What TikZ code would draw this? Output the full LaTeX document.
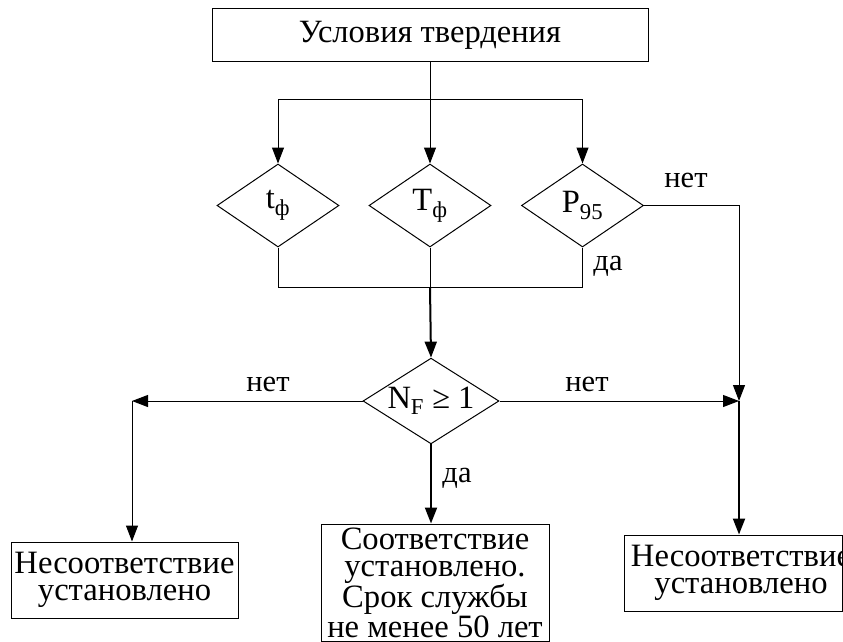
\documentclass[tikz,border=0pt]{standalone}
\usepackage{fontspec}
\setmainfont{Liberation Serif}
\usetikzlibrary{arrows.meta, shapes.geometric}
\newcommand{\fTitle}{\fontsize{32.5}{30}\selectfont}
\newcommand{\fBody}{\fontsize{32.6}{27}\selectfont}
\newcommand{\fCond}{\fontsize{32.5}{32}\selectfont}
\newcommand{\fNote}{\fontsize{30.5}{31}\selectfont}
\tikzset{
  every picture/.style={x=1pt, y=-1pt, line width=1pt},
  box/.style={draw, inner sep=0pt, align=center, font=\fBody},
  cond/.style={draw, diamond, aspect=1.5, inner sep=0pt, minimum width=122pt, minimum height=83pt, font=\fCond},
  arrow/.style={-{Triangle[length=16pt, width=12pt]}},
  heavy/.style={line width=2pt},
  note/.style={font=\fNote, inner sep=0pt},
}
\begin{document}
\begin{tikzpicture}
  \useasboundingbox (0,0) rectangle (843,642);
  % conditions
  \node[box, font=\fTitle, minimum width=436pt, minimum height=53pt] (start) at (430,35.5) {Условия твердения};
  \node[cond] (tf) at (278,205.5) {t\textsubscript{ф}};
  \node[cond] (Tf) at (430,205.5) {T\textsubscript{ф}};
  \node[cond] (P95) at (582.5,205.5) {P\textsubscript{95}};
  \node[cond, minimum width=136pt, minimum height=85pt] (NF) at (431,401) {N\textsubscript{F} ≥ 1};
  % results
  \node[box, minimum width=227pt, minimum height=76pt] (resL) at (124.5,580) {Несоответствие\\установлено};
  \node[box, minimum width=228pt, minimum height=117pt] (resM) at (435,582.5) {Соответствие\\установлено.\\Срок службы\\не менее 50 лет};
  \node[box, minimum width=218pt, minimum height=76pt] (resR) at (733.5,573) {};
  \node[font=\fBody, align=center, inner sep=0pt] (resRtxt) at (741,573) {Несоответствие\\установлено};
  % connectors
  \coordinate (split) at (430,99);
  \coordinate (join) at (430,287);
  \coordinate (cornerL) at (132,401);
  \coordinate (cornerR) at (739,401);
  \draw (start.south -| split) -- (split);
  \draw[arrow] (split) -| (tf.north);
  \draw[arrow] (split) -- (Tf.north);
  \draw[arrow] (split) -| (P95.north);
  \draw (tf.south) |- (join);
  \draw (P95.south) |- (join);
  \draw (Tf.south) -- (join);
  \draw[arrow, heavy] (join) -- (NF.north);
  \draw[arrow] (NF.west) -- (cornerL);
  \draw[arrow] (cornerL) -- (cornerL |- resL.north);
  \draw[arrow] (NF.east) -- (cornerR);
  \draw[arrow] (P95.east) -| (cornerR);
  \draw[arrow, heavy] (cornerR) -- (cornerR |- resR.north);
  \draw[arrow, heavy] (NF.south) -- (NF.south |- resM.north);
  % labels
  \node[note] (no1) at (686,180) {нет};
  \node[note] (yes1) at (608,266) {да};
  \node[note] (no2) at (268,384) {нет};
  \node[note] (no3) at (587,384) {нет};
  \node[note] (yes2) at (457,478) {да};
\end{tikzpicture}
\end{document}
